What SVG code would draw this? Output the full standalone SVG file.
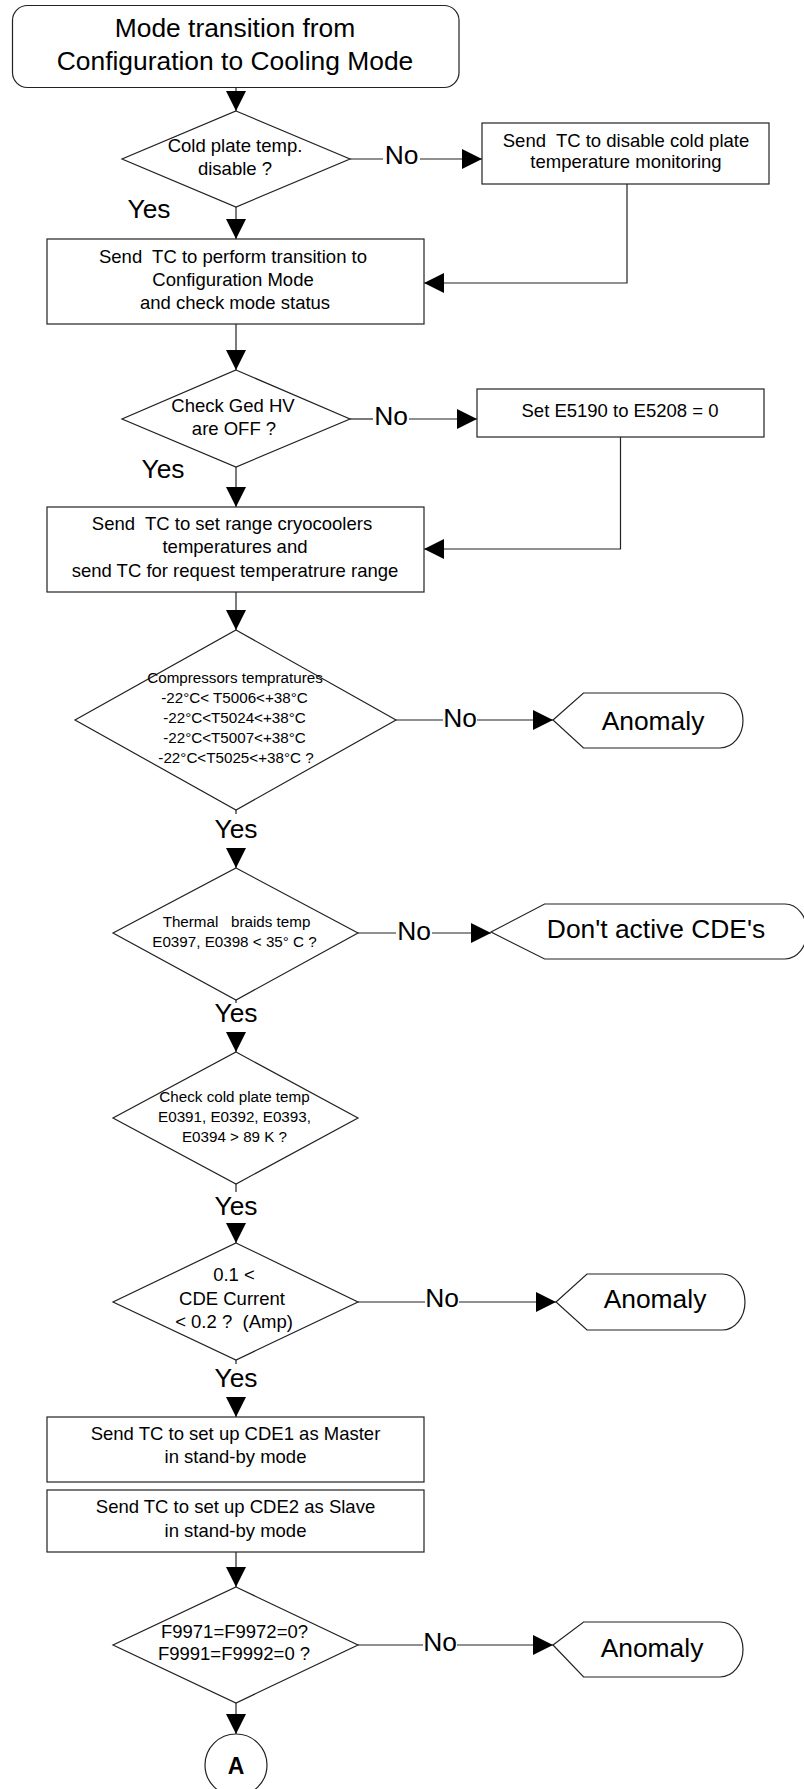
<svg xmlns="http://www.w3.org/2000/svg" width="804" height="1789" viewBox="0 0 804 1789">
  <style>
    .shape { fill: #ffffff; stroke: #222222; stroke-width: 1.2; }
    .line { fill: none; stroke: #222222; stroke-width: 1.2; }
    .arrow { fill: none; stroke: #222222; stroke-width: 1.2; marker-end: url(#head); }
    text { font-family: "Liberation Sans", Arial, sans-serif; fill: #000000; text-anchor: middle; white-space: pre; }
    .lg { font-size: 26.4px; }
    .md { font-size: 18.5px; }
    .sm { font-size: 15.2px; }
    .lbl { font-size: 26.4px; }
    .bold { font-size: 23px; font-weight: bold; }
  </style>
  <defs>
    <marker id="head" markerUnits="userSpaceOnUse" markerWidth="20" markerHeight="20" refX="20" refY="10" orient="auto">
      <path d="M0,0 L20,10 L0,20 Z" fill="#000000"/>
    </marker>
  </defs>
  <rect width="804" height="1789" fill="#ffffff"/>

  <!-- connectors -->
  <g id="connectors">
    <path class="arrow" d="M236,88 L236,111"/>
    <path class="line" d="M350,159 L383,159"/>
    <path class="arrow" d="M420,159 L482,159"/>
    <path class="arrow" d="M236,207 L236,239"/>
    <path class="arrow" d="M627,184 L627,283 L424,283"/>
    <path class="arrow" d="M236,324 L236,370"/>
    <path class="line" d="M350,419 L373,419"/>
    <path class="arrow" d="M409,419 L477,419"/>
    <path class="arrow" d="M236,467 L236,507"/>
    <path class="arrow" d="M620.5,437 L620.5,549 L424,549"/>
    <path class="arrow" d="M236,592 L236,630"/>
    <path class="line" d="M396,720 L443,720"/>
    <path class="arrow" d="M477,720 L553,720"/>
    <path class="line" d="M236,810 L236,814"/>
    <path class="arrow" d="M236,849 L236,868"/>
    <path class="line" d="M358,933 L396,933"/>
    <path class="arrow" d="M432,933 L491,933"/>
    <path class="line" d="M236,1000 L236,1003"/>
    <path class="arrow" d="M236,1033 L236,1052"/>
    <path class="line" d="M236,1184 L236,1192"/>
    <path class="arrow" d="M236,1224 L236,1243"/>
    <path class="line" d="M358,1302 L425,1302"/>
    <path class="arrow" d="M459,1302 L556,1302"/>
    <path class="line" d="M236,1360 L236,1364"/>
    <path class="arrow" d="M236,1398 L236,1417"/>
    <path class="arrow" d="M236,1552 L236,1587"/>
    <path class="line" d="M358,1645 L423,1645"/>
    <path class="arrow" d="M457,1645 L553,1645"/>
    <path class="arrow" d="M236,1703 L236,1734"/>
    <!-- branch labels -->
    <text class="lbl" x="401.5" y="164">No</text>
    <text class="lbl" x="149" y="218">Yes</text>
    <text class="lbl" x="391" y="425">No</text>
    <text class="lbl" x="163" y="478">Yes</text>
    <text class="lbl" x="460" y="727">No</text>
    <text class="lbl" x="236" y="838">Yes</text>
    <text class="lbl" x="414" y="940">No</text>
    <text class="lbl" x="236" y="1022">Yes</text>
    <text class="lbl" x="236" y="1215">Yes</text>
    <text class="lbl" x="442" y="1307">No</text>
    <text class="lbl" x="236" y="1387">Yes</text>
    <text class="lbl" x="440" y="1651">No</text>
  </g>

  <!-- start -->
  <g id="start">
    <rect class="shape" x="12.5" y="5.5" width="446.5" height="82" rx="15"/>
    <text class="lg" x="235" y="37">Mode transition from</text>
    <text class="lg" x="235" y="70">Configuration to Cooling Mode</text>
  </g>

  <g id="d-coldplate-disable">
    <polygon class="shape" points="236,111 350,159 236,207 122,159"/>
    <text class="md" x="235" y="152">Cold plate temp.</text>
    <text class="md" x="235" y="175">disable ?</text>
  </g>

  <g id="p-disable-monitoring">
    <rect class="shape" x="482" y="123" width="287" height="61"/>
    <text class="md" x="626" y="147">Send  TC to disable cold plate</text>
    <text class="md" x="626" y="168">temperature monitoring</text>
  </g>

  <g id="p-config-mode">
    <rect class="shape" x="47" y="239" width="377" height="85"/>
    <text class="md" x="233" y="263">Send  TC to perform transition to</text>
    <text class="md" x="233" y="286">Configuration Mode</text>
    <text class="md" x="235" y="309">and check mode status</text>
  </g>

  <g id="d-ged-hv">
    <polygon class="shape" points="236,370 350,419 236,467 122,419"/>
    <text class="md" x="233" y="412">Check Ged HV</text>
    <text class="md" x="234" y="435">are OFF ?</text>
  </g>

  <g id="p-set-e5190">
    <rect class="shape" x="477" y="389" width="287" height="48"/>
    <text class="md" x="620" y="417">Set E5190 to E5208 = 0</text>
  </g>

  <g id="p-cryocooler-range">
    <rect class="shape" x="47" y="507" width="377" height="85"/>
    <text class="md" x="232" y="530">Send  TC to set range cryocoolers</text>
    <text class="md" x="235" y="553">temperatures and</text>
    <text class="md" x="235" y="577">send TC for request temperatrure range</text>
  </g>

  <g id="d-compressors">
    <polygon class="shape" points="236,630 396,720 236,810 75,720"/>
    <text class="sm" x="235" y="683">Compressors tempratures</text>
    <text class="sm" x="234.5" y="703">-22°C&lt; T5006&lt;+38°C</text>
    <text class="sm" x="234.5" y="723">-22°C&lt;T5024&lt;+38°C</text>
    <text class="sm" x="234.5" y="743">-22°C&lt;T5007&lt;+38°C</text>
    <text class="sm" x="236" y="763">-22°C&lt;T5025&lt;+38°C ?</text>
  </g>

  <g id="t-anomaly-1">
    <path class="shape" d="M553,720 L583.5,693 L720,693 A23,27.5 0 0 1 720,748 L583.5,748 Z"/>
    <text class="lg" x="653" y="730">Anomaly</text>
  </g>

  <g id="d-thermal-braids">
    <polygon class="shape" points="236,868 358,933 236,1000 113,933"/>
    <text class="sm" x="236.5" y="927">Thermal   braids temp</text>
    <text class="sm" x="234.5" y="947">E0397, E0398 &lt; 35° C ?</text>
  </g>

  <g id="t-no-cde">
    <path class="shape" d="M491,932 L544.6,904 L785,904 A22,27.5 0 0 1 785,959 L544.6,959 Z"/>
    <text class="lg" x="656" y="938">Don't active CDE's</text>
  </g>

  <g id="d-coldplate-temp">
    <polygon class="shape" points="236,1052 358,1118 236,1184 113,1118"/>
    <text class="sm" x="234.5" y="1102">Check cold plate temp</text>
    <text class="sm" x="234.5" y="1122">E0391, E0392, E0393,</text>
    <text class="sm" x="234.5" y="1142">E0394 &gt; 89 K ?</text>
  </g>

  <g id="d-cde-current">
    <polygon class="shape" points="236,1243 358,1302 236,1360 113,1302"/>
    <text class="md" x="234" y="1281">0.1 &lt;</text>
    <text class="md" x="232" y="1305">CDE Current</text>
    <text class="md" x="234" y="1328">&lt; 0.2 ?  (Amp)</text>
  </g>

  <g id="t-anomaly-2">
    <path class="shape" d="M556,1302 L587,1274 L722,1274 A23,28 0 0 1 722,1330 L587,1330 Z"/>
    <text class="lg" x="655" y="1308">Anomaly</text>
  </g>

  <g id="p-cde1-master">
    <rect class="shape" x="47" y="1417" width="377" height="65"/>
    <text class="md" x="235.5" y="1440">Send TC to set up CDE1 as Master</text>
    <text class="md" x="235.5" y="1463">in stand-by mode</text>
  </g>

  <g id="p-cde2-slave">
    <rect class="shape" x="47" y="1490" width="377" height="62"/>
    <text class="md" x="235.5" y="1513">Send TC to set up CDE2 as Slave</text>
    <text class="md" x="235.5" y="1537">in stand-by mode</text>
  </g>

  <g id="d-flags">
    <polygon class="shape" points="236,1587 358,1645 236,1703 113,1645"/>
    <text class="md" x="234.5" y="1638">F9971=F9972=0?</text>
    <text class="md" x="234" y="1660">F9991=F9992=0 ?</text>
  </g>

  <g id="t-anomaly-3">
    <path class="shape" d="M553,1645 L583.6,1622 L720,1622 A23,27.5 0 0 1 720,1677 L583.6,1677 Z"/>
    <text class="lg" x="652" y="1657">Anomaly</text>
  </g>

  <g id="c-a">
    <circle class="shape" cx="236" cy="1765" r="31"/>
    <text class="bold" x="236" y="1774">A</text>
  </g>
</svg>
